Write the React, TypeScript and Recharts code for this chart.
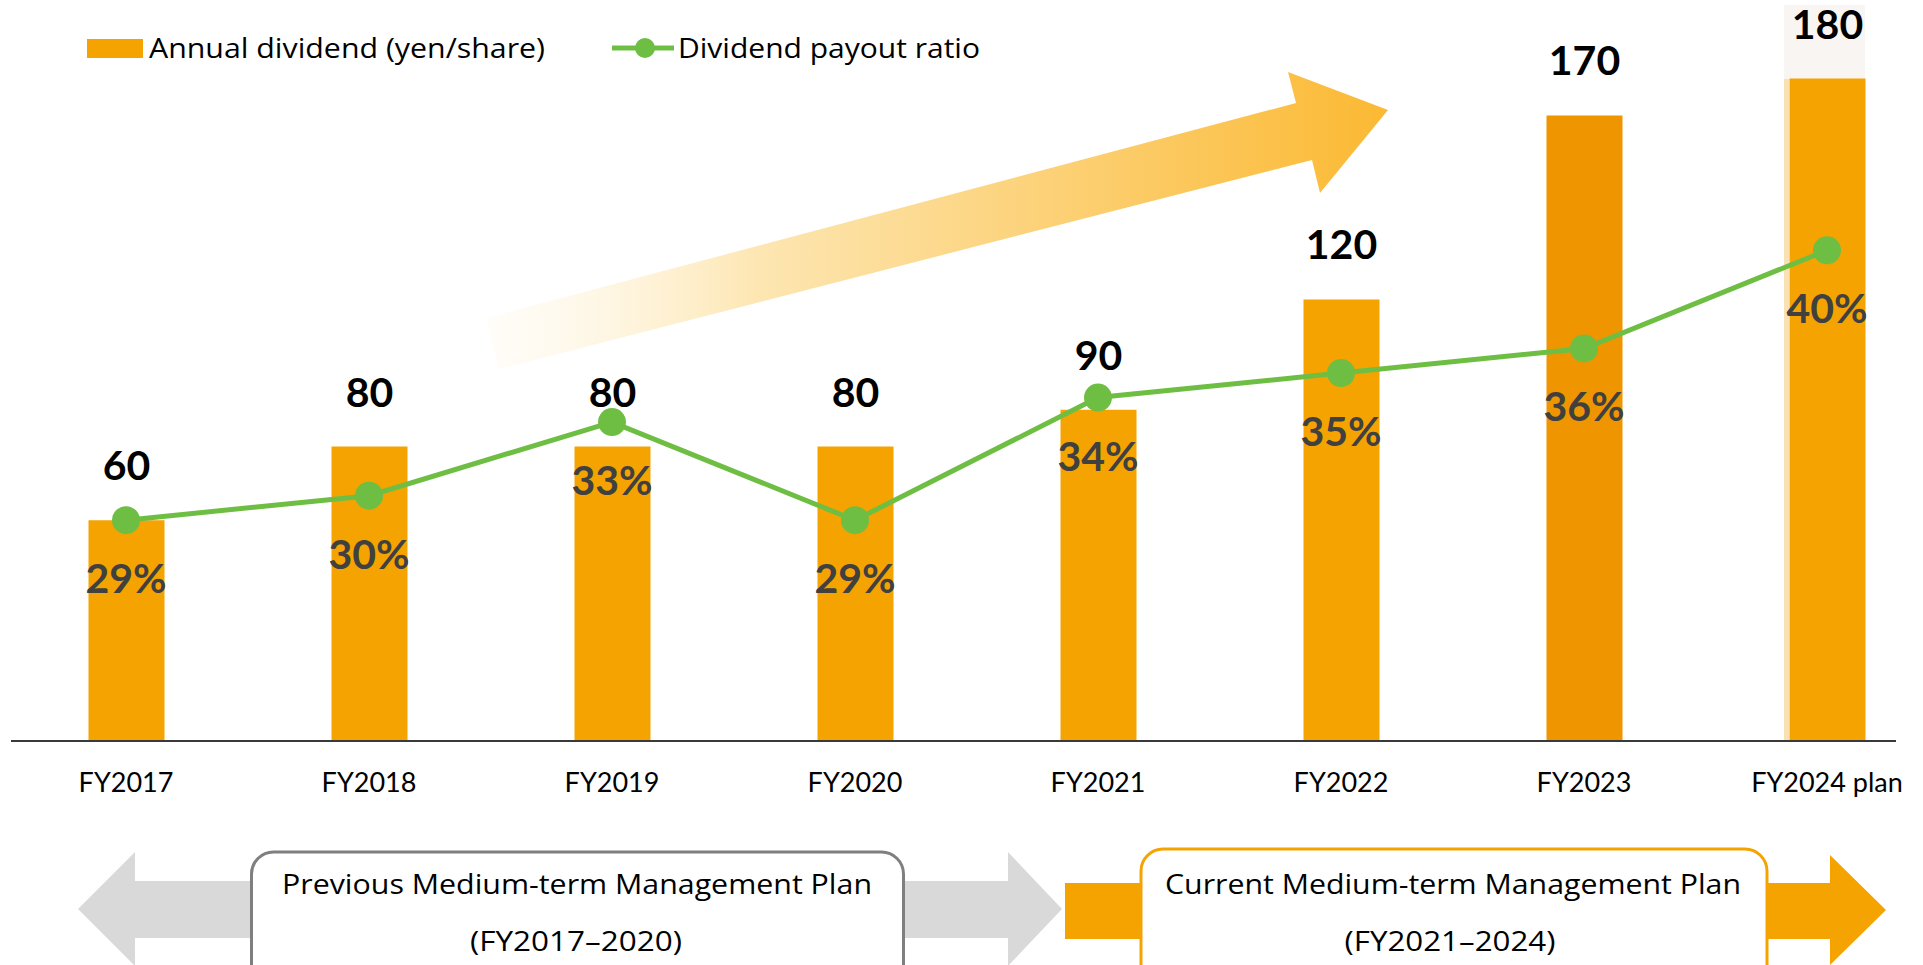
import React from 'react';
import { ComposedChart, Bar, Line, XAxis, YAxis, Cell } from 'recharts';

// fiscal years and values
const categories = ['FY2017', 'FY2018', 'FY2019', 'FY2020', 'FY2021', 'FY2022', 'FY2023', 'FY2024 plan'];
const annualDividend = [60, 80, 80, 80, 90, 120, 170, 180];
const payoutRatio = [29, 30, 33, 29, 34, 35, 36, 40];

const BAR = '#F5A300';
const BAR_DARK = '#EF9500';
const GREEN = '#6FBE44';
const FONT = "Lato, 'Open Sans', sans-serif";
const WIDE = "'Open Sans', Lato, sans-serif";

const data = categories.map((name, i) => ({
  name,
  dividend: annualDividend[i],
  ratio: payoutRatio[i],
}));

function pos(p: any) {
  const vb = p.viewBox || {};
  return {
    x: p.x ?? vb.x,
    y: p.y ?? vb.y,
    width: p.width ?? vb.width ?? 0,
  };
}

function DividendLabel(p: any) {
  const { x, y, width } = pos(p);
  return (
    <text x={x + width / 2} y={y - 40} textAnchor="middle" fontFamily={FONT} fontWeight={700} fontSize={41} fill="#000">
      {p.value}
    </text>
  );
}

function RatioLabel(p: any) {
  const { x, y } = pos(p);
  return (
    <text x={x} y={y + 73} textAnchor="middle" fontFamily={FONT} fontWeight={700} fontSize={41} fill="#404040">
      {p.value}%
    </text>
  );
}

function YearTick(p: any) {
  const { x, y, payload } = p;
  return (
    <text x={x} y={y + 51} textAnchor="middle" fontFamily={FONT} fontSize={27} fill="#000">
      {payload.value}
    </text>
  );
}

// text stretched to the width it has on the slide
function Wide(props: { x: number; y: number; w: number; size?: number; anchor?: string; children: string }) {
  return (
    <text
      x={props.x}
      y={props.y}
      textAnchor={props.anchor || 'start'}
      textLength={props.w}
      lengthAdjust="spacingAndGlyphs"
      fontFamily={WIDE}
      fontSize={props.size || 27}
      fill="#000"
    >
      {props.children}
    </text>
  );
}

function Decorations() {
  return (
    <svg width={1923} height={965} style={{ position: 'absolute', left: 0, top: 0 }}>
      <defs>
        <linearGradient id="growth" x1="486" y1="0" x2="1388" y2="0" gradientUnits="userSpaceOnUse">
          <stop offset="0" stopColor="#FFF6E2" stopOpacity={0.2} />
          <stop offset="0.3" stopColor="#FDE6B2" />
          <stop offset="1" stopColor="#FBB933" />
        </linearGradient>
      </defs>

      {/* big growth arrow */}
      <polygon points="486,318 1296,103 1288,72 1388,110 1320,193 1312,160 499,369" fill="url(#growth)" />

      {/* pale box behind the FY2024 label */}
      <rect x={1784} y={5} width={81} height={74} fill="#F9F5F2" />
      <rect x={1784} y={79} width={5} height={662} fill="#F8E2B5" />

      {/* legend */}
      <rect x={87} y={39} width={56} height={19} fill={BAR} />
      <Wide x={149} y={58} w={396}>Annual dividend (yen/share)</Wide>
      <line x1={612} x2={674} y1={48} y2={48} stroke={GREEN} strokeWidth={5} />
      <circle cx={645} cy={48} r={10} fill={GREEN} />
      <Wide x={678} y={58} w={302}>Dividend payout ratio</Wide>

      {/* medium-term plan arrows */}
      <polygon
        points="78,909 135,852 135,881 1008,881 1008,852 1062,909 1008,966 1008,938 135,938 135,966"
        fill="#D9D9D9"
      />
      <rect x={251.5} y={852} width={652} height={140} rx={22} fill="#fff" stroke="#7F7F7F" strokeWidth={3} />
      <Wide x={577} y={894} w={590} size={28} anchor="middle">Previous Medium-term Management Plan</Wide>
      <Wide x={576} y={951} w={212} size={28} anchor="middle">(FY2017–2020)</Wide>

      <polygon points="1065,883 1830,883 1830,855 1886,910 1830,965 1830,939 1065,939" fill={BAR} />
      <rect x={1141} y={849} width={626} height={140} rx={22} fill="#fff" stroke={BAR} strokeWidth={3} />
      <Wide x={1453} y={894} w={576} size={28} anchor="middle">Current Medium-term Management Plan</Wide>
      <Wide x={1450} y={951} w={211} size={28} anchor="middle">(FY2021–2024)</Wide>
    </svg>
  );
}

export default function App() {
  return (
    <div style={{ position: 'absolute', left: 0, top: 0, width: 1923, height: 965, background: '#fff', overflow: 'hidden' }}>
      <Decorations />
      <div style={{ position: 'absolute', left: 0, top: 0 }}>
        <ComposedChart width={1923} height={965} data={data} margin={{ top: 5, right: 27, bottom: 0, left: 11 }}>
          <XAxis
            dataKey="name"
            height={224}
            padding={{ left: -6.5, right: -52.5 }}
            axisLine={{ stroke: '#3A3A3A', strokeWidth: 2 }}
            tickLine={false}
            tickSize={0}
            tickMargin={0}
            tick={<YearTick />}
            interval={0}
          />
          <YAxis yAxisId="yen" domain={[0, 200]} hide />
          <YAxis yAxisId="pct" orientation="right" domain={[20, 50]} hide />
          <Bar yAxisId="yen" dataKey="dividend" barSize={76} fill={BAR} isAnimationActive={false} label={<DividendLabel />}>
            {data.map((d, i) => (
              <Cell key={d.name} fill={i === 6 ? BAR_DARK : BAR} />
            ))}
          </Bar>
          <Line
            yAxisId="pct"
            type="linear"
            dataKey="ratio"
            stroke={GREEN}
            strokeWidth={5}
            dot={{ r: 14, fill: GREEN, stroke: 'none' }}
            activeDot={false}
            isAnimationActive={false}
            label={<RatioLabel />}
          />
        </ComposedChart>
      </div>
    </div>
  );
}
